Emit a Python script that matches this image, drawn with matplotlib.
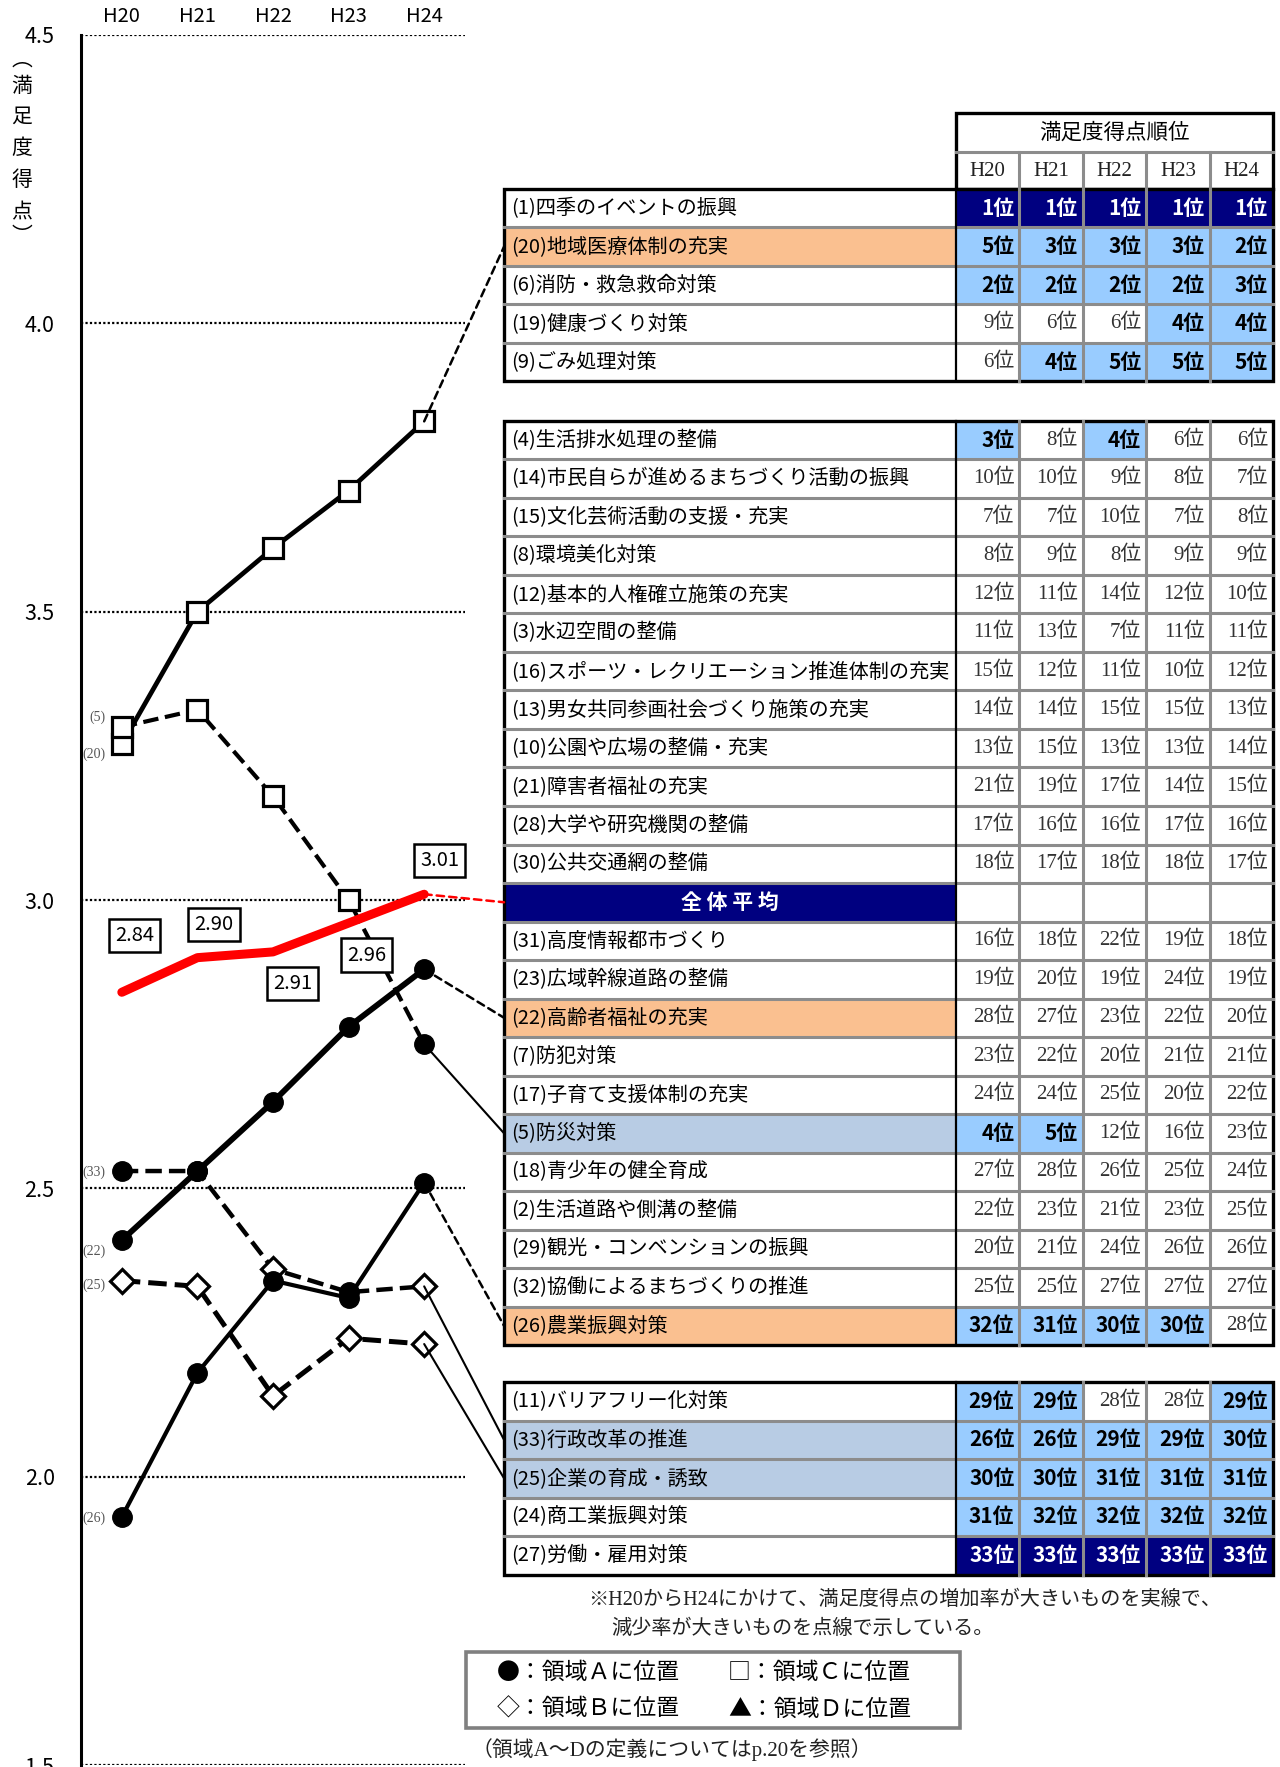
import matplotlib
matplotlib.use("Agg")
import matplotlib.pyplot as plt
from matplotlib.patches import Rectangle, ConnectionPatch

plt.rcParams["font.family"] = ["Noto Sans CJK JP", "DejaVu Sans"]
SERIF = ["Liberation Serif", "Noto Sans CJK JP"]

# ---- データ ----
years = ["H20", "H21", "H22", "H23", "H24"]
avg = [2.84, 2.90, 2.91, 2.96, 3.01]

s20 = [3.27, 3.50, 3.61, 3.71, 3.83]
r20 = "CCCCC"
s5 = [3.30, 3.33, 3.18, 3.00, 2.75]
r5 = "CCCCA"
s22 = [2.41, 2.53, 2.65, 2.78, 2.88]
r22 = "AAAAA"
s33 = [2.53, 2.53, 2.36, 2.32, 2.33]
r33 = "AABAB"
s25 = [2.34, 2.33, 2.14, 2.24, 2.23]
r25 = "BBBBB"
s26 = [1.93, 2.18, 2.34, 2.31, 2.51]
r26 = "AAAAA"

top_items = ["(1)四季のイベントの振興", "(20)地域医療体制の充実", "(6)消防・救急救命対策",
             "(19)健康づくり対策", "(9)ごみ処理対策"]
top_ranks = [[1, 1, 1, 1, 1], [5, 3, 3, 3, 2], [2, 2, 2, 2, 3], [9, 6, 6, 4, 4], [6, 4, 5, 5, 5]]

mid_items = ["(4)生活排水処理の整備", "(14)市民自らが進めるまちづくり活動の振興",
             "(15)文化芸術活動の支援・充実", "(8)環境美化対策", "(12)基本的人権確立施策の充実",
             "(3)水辺空間の整備", "(16)スポーツ・レクリエーション推進体制の充実",
             "(13)男女共同参画社会づくり施策の充実", "(10)公園や広場の整備・充実",
             "(21)障害者福祉の充実", "(28)大学や研究機関の整備", "(30)公共交通網の整備",
             "全体平均",
             "(31)高度情報都市づくり", "(23)広域幹線道路の整備", "(22)高齢者福祉の充実",
             "(7)防犯対策", "(17)子育て支援体制の充実", "(5)防災対策", "(18)青少年の健全育成",
             "(2)生活道路や側溝の整備", "(29)観光・コンベンションの振興",
             "(32)協働によるまちづくりの推進", "(26)農業振興対策"]
mid_ranks = [[3, 8, 4, 6, 6], [10, 10, 9, 8, 7], [7, 7, 10, 7, 8], [8, 9, 8, 9, 9],
             [12, 11, 14, 12, 10], [11, 13, 7, 11, 11], [15, 12, 11, 10, 12],
             [14, 14, 15, 15, 13], [13, 15, 13, 13, 14], [21, 19, 17, 14, 15],
             [17, 16, 16, 17, 16], [18, 17, 18, 18, 17],
             [None] * 5,
             [16, 18, 22, 19, 18], [19, 20, 19, 24, 19], [28, 27, 23, 22, 20],
             [23, 22, 20, 21, 21], [24, 24, 25, 20, 22], [4, 5, 12, 16, 23],
             [27, 28, 26, 25, 24], [22, 23, 21, 23, 25], [20, 21, 24, 26, 26],
             [25, 25, 27, 27, 27], [32, 31, 30, 30, 28]]

bot_items = ["(11)バリアフリー化対策", "(33)行政改革の推進", "(25)企業の育成・誘致",
             "(24)商工業振興対策", "(27)労働・雇用対策"]
bot_ranks = [[29, 29, 28, 28, 29], [26, 26, 29, 29, 30], [30, 30, 31, 31, 31],
             [31, 32, 32, 32, 32], [33, 33, 33, 33, 33]]

up_items = ["(20)", "(22)", "(26)"]
down_items = ["(5)", "(33)", "(25)"]
extra_blue = [("(33)", 0), ("(33)", 1)]

# ---- 色・寸法 ----
NAVY = "#000080"
BLUE = "#99CCFF"
ORANGE = "#FAC090"
BGRAY = "#B8CCE4"
GRID = "#8C8C8C"
W, H = 1280, 1767
TAB_L, LAB_R, COL_W, ROW_H = 504, 956, 63.4, 38.5
TAB_R = LAB_R + 5 * COL_W
T1, T2, T3 = 189, 421, 1382

fig = plt.figure(figsize=(W / 100, H / 100), dpi=100, facecolor="white")

# 全体レイアウト用 (ピクセル座標)
ov = fig.add_axes([0, 0, 1, 1])
ov.set_xlim(0, W)
ov.set_ylim(H, 0)
ov.set_autoscale_on(False)
ov.axis("off")
ov.patch.set_visible(False)


def prefix(name):
    return name.split(")")[0] + ")"


def draw_table(top, items, ranks):
    n = len(items)
    for i, (name, rk) in enumerate(zip(items, ranks)):
        y0 = top + i * ROW_H
        yc = y0 + ROW_H / 2
        if name == "全体平均":
            ov.add_patch(Rectangle((TAB_L, y0), LAB_R - TAB_L, ROW_H, fc=NAVY, ec="none"))
            ov.text((TAB_L + LAB_R) / 2, yc, "全 体 平 均", color="white", fontsize=15,
                    fontweight="bold", ha="center", va="center")
        else:
            fc = "white"
            if prefix(name) in up_items:
                fc = ORANGE
            elif prefix(name) in down_items:
                fc = BGRAY
            ov.add_patch(Rectangle((TAB_L, y0), LAB_R - TAB_L, ROW_H, fc=fc, ec="none"))
            ov.text(TAB_L + 7, yc, name, fontsize=14.5, ha="left", va="center")
        for j, r in enumerate(rk):
            x0 = LAB_R + j * COL_W
            if r is None:
                continue
            hot = r <= 5 or r >= 29 or (prefix(name), j) in extra_blue
            if r in (1, 33):
                ov.add_patch(Rectangle((x0, y0), COL_W, ROW_H, fc=NAVY, ec="none"))
                ov.text(x0 + COL_W - 5, yc, f"{r}位", color="white", fontsize=15,
                        fontweight="bold", ha="right", va="center")
            elif hot:
                ov.add_patch(Rectangle((x0, y0), COL_W, ROW_H, fc=BLUE, ec="none"))
                ov.text(x0 + COL_W - 5, yc, f"{r}位", color="black", fontsize=15,
                        fontweight="bold", ha="right", va="center")
            else:
                ov.text(x0 + COL_W - 5, yc, f"{r}位", color="#333333", fontsize=15,
                        family=SERIF, ha="right", va="center")
    bottom = top + n * ROW_H
    for i in range(1, n):
        ov.plot([TAB_L, TAB_R], [top + i * ROW_H] * 2, color=GRID, lw=2.2)
    for j in range(1, 5):
        ov.plot([LAB_R + j * COL_W] * 2, [top, bottom], color=GRID, lw=2.2)
    ov.plot([LAB_R] * 2, [top, bottom], color="black", lw=1.6)
    ov.add_patch(Rectangle((TAB_L, top), TAB_R - TAB_L, bottom - top, fill=False,
                           ec="black", lw=2.4))


# 見出し
HEAD_T = 113
ov.add_patch(Rectangle((LAB_R, HEAD_T), TAB_R - LAB_R, T1 - HEAD_T, fc="white", ec="none"))
ov.plot([LAB_R, TAB_R], [152, 152], color=GRID, lw=2.2)
for j in range(1, 5):
    ov.plot([LAB_R + j * COL_W] * 2, [152, T1], color=GRID, lw=2.2)
ov.add_patch(Rectangle((LAB_R, HEAD_T), TAB_R - LAB_R, T1 - HEAD_T, fill=False,
                       ec="black", lw=2.4))
ov.text((LAB_R + TAB_R) / 2, 133, "満足度得点順位", fontsize=15.5, ha="center", va="center")
for j, yr in enumerate(years):
    ov.text(LAB_R + (j + 0.5) * COL_W, 171, yr, fontsize=15, family=SERIF,
            ha="center", va="center", color="#222222")

draw_table(T1, top_items, top_ranks)
draw_table(T2, mid_items, mid_ranks)
draw_table(T3, bot_items, bot_ranks)

# 注記
ov.text(588, 1600, "※H20からH24にかけて、満足度得点の増加率が大きいものを実線で、",
        fontsize=14.5, family=SERIF, ha="left", va="center", color="#222222")
ov.text(611, 1629, "減少率が大きいものを点線で示している。",
        fontsize=14.5, family=SERIF, ha="left", va="center", color="#222222")
ov.add_patch(Rectangle((466, 1652), 494, 76, fill=False, ec="#808080", lw=2.6))
ov.text(497, 1672, "●：領域Ａに位置", fontsize=16.5, ha="left", va="center")
ov.text(728, 1672, "□：領域Ｃに位置", fontsize=16.5, ha="left", va="center")
ov.text(497, 1709, "◇：領域Ｂに位置", fontsize=16.5, ha="left", va="center")
ov.text(728, 1709, "▲：領域Ｄに位置", fontsize=16.5, ha="left", va="center")
ov.text(472, 1750, "（領域A～Dの定義についてはp.20を参照）", fontsize=15,
        family=SERIF, ha="left", va="center", color="#222222")

# 縦軸タイトル
ylab = ["︵", "満", "足", "度", "得", "点", "︶"]
ylab_y = [60, 86, 117, 148, 180, 212, 236]
for ch, yy in zip(ylab, ylab_y):
    ov.text(22, yy, ch, fontsize=15, ha="center", va="center")

# ---- 折れ線グラフ ----
ax = fig.add_axes([81 / W, 1 - 1765 / H, (465 - 81) / W, (1765 - 35) / H])
ax.patch.set_visible(False)
ax.set_xlim(-0.54, 4.54)
ax.set_ylim(1.5, 4.5)
ax.set_yticks([1.5, 2.0, 2.5, 3.0, 3.5, 4.0, 4.5])
ax.set_yticklabels(["1.5", "2.0", "2.5", "3.0", "3.5", "4.0", "4.5"], fontsize=15.5)
ax.set_xticks(range(5))
ax.set_xticklabels(years, fontsize=14.5)
ax.xaxis.tick_top()
ax.tick_params(axis="x", length=0, pad=6)
ax.tick_params(axis="y", length=0, pad=19)
ax.grid(axis="y", color="black", linestyle=(0, (1, 1)), lw=1.6)
for sp in ["top", "right", "bottom"]:
    ax.spines[sp].set_visible(False)
ax.spines["left"].set_linewidth(2.2)

x = list(range(5))
MK = {"A": dict(marker="o", mfc="black", mec="black", ms=14),
      "B": dict(marker="D", mfc="white", mec="black", ms=12.5, mew=2.3),
      "C": dict(marker="s", mfc="white", mec="black", ms=14, mew=2.3),
      "D": dict(marker="^", mfc="black", mec="black", ms=14)}

series = [("(20)", s20, r20, "-", 3.4), ("(5)", s5, r5, "--", 3.0),
          ("(22)", s22, r22, "-", 4.2), ("(33)", s33, r33, "--", 3.2),
          ("(25)", s25, r25, "--", 3.6), ("(26)", s26, r26, "-", 3.0)]
for key, vals, regs, ls, lw in series:
    ax.plot(x, vals, color="black", ls=ls, lw=lw, zorder=3)
    for xi, v, rg in zip(x, vals, regs):
        ax.plot(xi, v, ls="none", zorder=4, **MK[rg])

ax.plot(x, avg, color="red", lw=6.5, solid_capstyle="round", zorder=5)

# 始点ラベル
start_off = {"(5)": (-12, 7), "(20)": (-12, -7), "(33)": (-12, -1),
             "(22)": (-12, -8), "(25)": (-12, -3), "(26)": (-12, -1)}
for key, vals, regs, ls, lw in series:
    dx, dy = start_off[key]
    ax.annotate(key, (0, vals[0]), xytext=(dx, dy), textcoords="offset points",
                ha="right", va="center", fontsize=10, family=SERIF, color="#555555")

# 平均値ラベル
avg_off = [(9, 41), (12, 24), (14, -23), (13, -23), (11, 24)]
for xi, v, off in zip(x, avg, avg_off):
    ax.annotate(f"{v:.2f}", (xi, v), xytext=off, textcoords="offset points",
                ha="center", va="center", fontsize=14.5, zorder=6,
                bbox=dict(boxstyle="square,pad=0.3", fc="white", ec="black", lw=1.8))


# ---- 表への引出線 ----
def row_center(top, items, key):
    for i, name in enumerate(items):
        if name == key or prefix(name) == key:
            return top + (i + 0.5) * ROW_H


links = [(s20[-1], row_center(T1, top_items, "(20)"), "black", (0, (3, 2)), 1.8),
         (avg[-1], row_center(T2, mid_items, "全体平均"), "red", (0, (3, 2)), 1.8),
         (s22[-1], row_center(T2, mid_items, "(22)"), "black", (0, (3, 2)), 1.8),
         (s5[-1], row_center(T2, mid_items, "(5)"), "black", "-", 1.5),
         (s26[-1], row_center(T2, mid_items, "(26)"), "black", (0, (3, 2)), 1.8),
         (s33[-1], row_center(T3, bot_items, "(33)"), "black", "-", 1.5),
         (s25[-1], row_center(T3, bot_items, "(25)"), "black", "-", 1.5)]
for v, yr, col, ls, lw in links:
    cp = ConnectionPatch(xyA=(4, v), coordsA=ax.transData, xyB=(TAB_L, yr),
                         coordsB=ov.transData, color=col, ls=ls, lw=lw,
                         shrinkA=0, shrinkB=0, zorder=2)
    fig.add_artist(cp)

fig.savefig("out.png", dpi=100, facecolor="white")
